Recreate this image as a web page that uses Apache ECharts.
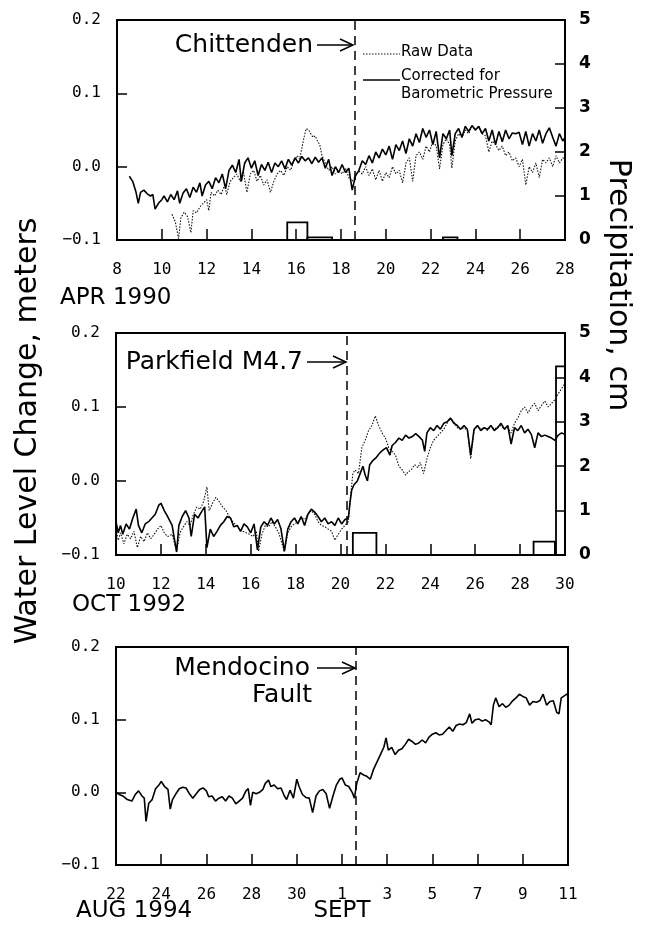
<!DOCTYPE html>
<html><head><meta charset="utf-8">
<script src="https://cdn.jsdelivr.net/npm/echarts/dist/echarts.min.js"></script>
<style>html,body{margin:0;padding:0;background:#fff}#c{width:645px;height:940px}</style>
</head><body><div id="c"></div>
<script>
// ---------------- DATA ----------------
// Panel 1: April 1990 (x = day of April)
const apr1990Corrected = [
[8.55,-0.013],[8.7,-0.02],[8.85,-0.035],[8.95,-0.05],[9.05,-0.035],[9.2,-0.032],[9.35,-0.037],[9.5,-0.04],[9.6,-0.038],[9.7,-0.058],
[9.85,-0.05],[10.0,-0.045],[10.1,-0.04],[10.25,-0.048],[10.4,-0.038],[10.55,-0.045],[10.7,-0.033],[10.8,-0.05],[10.95,-0.036],[11.1,-0.03],
[11.25,-0.042],[11.4,-0.028],[11.55,-0.035],[11.7,-0.022],[11.8,-0.04],[11.95,-0.025],[12.1,-0.02],[12.25,-0.03],[12.4,-0.015],[12.55,-0.022],
[12.7,-0.01],[12.85,-0.03],[13.0,-0.005],[13.15,0.002],[13.3,-0.008],[13.45,0.01],[13.55,-0.02],[13.7,0.005],[13.85,0.012],[14.0,-0.002],
[14.15,0.008],[14.3,-0.012],[14.45,0.003],[14.6,-0.005],[14.75,0.006],[14.9,-0.008],[15.05,0.005],[15.2,0.0],[15.35,0.008],[15.5,-0.003],
[15.65,0.01],[15.8,0.002],[15.95,0.012],[16.1,0.005],[16.25,0.014],[16.4,0.008],[16.55,0.012],[16.7,0.004],[16.85,0.013],[17.0,0.006],
[17.15,0.012],[17.3,-0.002],[17.45,0.01],[17.6,-0.012],[17.75,0.0],[17.9,-0.008],[18.05,0.003],[18.2,-0.008],[18.35,-0.002],[18.5,-0.032],
[18.65,-0.012],[18.8,-0.005],[18.95,0.008],[19.1,0.003],[19.25,0.015],[19.4,0.005],[19.55,0.02],[19.7,0.012],[19.85,0.024],[20.0,0.016],
[20.15,0.028],[20.3,0.01],[20.45,0.03],[20.6,0.022],[20.75,0.035],[20.9,0.018],[21.05,0.038],[21.2,0.028],[21.35,0.045],[21.5,0.033],
[21.65,0.052],[21.8,0.04],[21.95,0.05],[22.1,0.03],[22.25,0.048],[22.4,0.012],[22.55,0.045],[22.7,0.038],[22.85,0.05],[22.95,0.015],
[23.1,0.045],[23.25,0.052],[23.4,0.04],[23.55,0.055],[23.7,0.048],[23.85,0.056],[24.0,0.05],[24.15,0.055],[24.3,0.045],[24.45,0.052],
[24.6,0.035],[24.75,0.05],[24.9,0.03],[25.05,0.048],[25.2,0.034],[25.35,0.05],[25.5,0.038],[25.65,0.046],[25.8,0.045],[25.95,0.047],
[26.1,0.03],[26.25,0.048],[26.4,0.028],[26.55,0.045],[26.7,0.035],[26.85,0.05],[27.0,0.032],[27.15,0.045],[27.3,0.053],[27.45,0.04],
[27.6,0.028],[27.75,0.045],[27.9,0.035],[28.0,0.04]];
const apr1990Raw = [
[10.45,-0.065],[10.6,-0.075],[10.75,-0.098],[10.85,-0.07],[11.0,-0.062],[11.15,-0.068],[11.3,-0.09],[11.4,-0.06],[11.55,-0.063],[11.7,-0.055],
[11.85,-0.05],[12.0,-0.045],[12.1,-0.06],[12.2,-0.035],[12.35,-0.04],[12.5,-0.032],[12.65,-0.038],[12.8,-0.025],[12.9,-0.038],[13.05,-0.02],
[13.2,-0.015],[13.35,-0.01],[13.5,-0.02],[13.65,-0.008],[13.8,-0.035],[13.95,-0.01],[14.1,-0.005],[14.25,-0.02],[14.4,-0.012],[14.55,-0.025],
[14.7,-0.018],[14.85,-0.035],[15.0,-0.02],[15.15,-0.01],[15.3,-0.005],[15.45,-0.012],[15.6,0.0],[15.75,-0.005],[15.9,0.008],[16.05,0.015],
[16.15,0.01],[16.25,0.025],[16.35,0.04],[16.45,0.052],[16.55,0.05],[16.65,0.045],[16.75,0.04],[16.85,0.042],[16.95,0.035],[17.05,0.03],
[17.15,0.015],[17.3,0.005],[17.45,-0.005],[17.6,0.0],[17.75,-0.01],[17.9,-0.005],[18.05,-0.01],[18.2,-0.002],[18.35,-0.015],[18.5,-0.02],
[18.65,-0.012],[18.8,-0.006],[18.95,-0.01],[19.1,0.0],[19.25,-0.012],[19.4,-0.003],[19.55,-0.018],[19.7,-0.005],[19.85,-0.02],[20.0,-0.008],
[20.15,-0.015],[20.3,0.0],[20.45,-0.01],[20.6,-0.005],[20.75,-0.022],[20.9,0.005],[21.05,0.012],[21.2,-0.02],[21.35,0.015],[21.5,0.02],
[21.65,0.01],[21.8,0.028],[21.95,0.02],[22.1,0.035],[22.25,0.028],[22.4,-0.003],[22.55,0.03],[22.7,0.038],[22.85,0.03],[22.95,-0.002],
[23.1,0.035],[23.25,0.045],[23.4,0.04],[23.55,0.05],[23.7,0.045],[23.85,0.055],[24.0,0.05],[24.15,0.054],[24.3,0.045],[24.45,0.042],
[24.6,0.02],[24.75,0.035],[24.9,0.03],[25.05,0.022],[25.2,0.028],[25.35,0.015],[25.5,0.02],[25.65,0.008],[25.8,0.012],[25.95,0.0],
[26.1,0.01],[26.25,-0.025],[26.4,0.0],[26.55,-0.008],[26.7,0.005],[26.85,-0.015],[27.0,0.01],[27.15,0.005],[27.3,0.012],[27.45,0.0],
[27.6,0.015],[27.75,0.005],[27.9,0.012],[28.0,0.01]];
// precipitation bars: [start day, end day, cm]
const apr1990Precip = [[15.6,16.5,0.4],[16.5,17.6,0.06],[22.55,23.2,0.06]];
const apr1990Event = 18.6;

// Panel 2: October 1992 (x = day of October)
const oct1992Corrected = [
[10.0,-0.055],[10.1,-0.07],[10.2,-0.06],[10.3,-0.072],[10.45,-0.058],[10.6,-0.065],[10.75,-0.05],[10.9,-0.038],[11.0,-0.06],[11.15,-0.07],
[11.3,-0.058],[11.45,-0.055],[11.6,-0.05],[11.75,-0.045],[11.9,-0.033],[12.0,-0.03],[12.15,-0.04],[12.3,-0.048],[12.5,-0.06],[12.7,-0.096],
[12.8,-0.06],[12.95,-0.048],[13.1,-0.04],[13.25,-0.05],[13.35,-0.075],[13.5,-0.045],[13.65,-0.05],[13.8,-0.042],[13.95,-0.035],[14.05,-0.09],
[14.2,-0.065],[14.35,-0.075],[14.5,-0.068],[14.65,-0.06],[14.8,-0.055],[14.95,-0.048],[15.1,-0.05],[15.25,-0.062],[15.4,-0.06],[15.55,-0.068],
[15.7,-0.058],[15.85,-0.062],[16.0,-0.07],[16.15,-0.058],[16.3,-0.093],[16.45,-0.062],[16.6,-0.055],[16.75,-0.06],[16.9,-0.05],[17.05,-0.058],
[17.2,-0.052],[17.35,-0.065],[17.5,-0.095],[17.65,-0.065],[17.8,-0.055],[17.95,-0.05],[18.1,-0.058],[18.25,-0.048],[18.4,-0.06],[18.55,-0.045],
[18.7,-0.038],[18.85,-0.042],[19.0,-0.048],[19.15,-0.055],[19.3,-0.05],[19.45,-0.058],[19.6,-0.055],[19.75,-0.06],[19.9,-0.05],[20.05,-0.058],
[20.2,-0.052],[20.35,-0.05],[20.42,-0.03],[20.5,-0.012],[20.6,-0.005],[20.75,0.0],[20.9,0.012],[21.0,0.02],[21.1,0.008],[21.2,0.0],
[21.3,0.022],[21.45,0.028],[21.6,0.032],[21.75,0.038],[21.9,0.042],[22.05,0.045],[22.2,0.035],[22.3,0.048],[22.45,0.052],[22.6,0.058],
[22.75,0.055],[22.9,0.062],[23.05,0.058],[23.2,0.06],[23.35,0.064],[23.5,0.06],[23.65,0.055],[23.75,0.04],[23.85,0.065],[24.0,0.072],
[24.15,0.068],[24.3,0.075],[24.45,0.07],[24.6,0.078],[24.75,0.08],[24.9,0.085],[25.05,0.078],[25.2,0.075],[25.35,0.07],[25.5,0.075],
[25.65,0.07],[25.8,0.035],[25.95,0.07],[26.1,0.075],[26.25,0.068],[26.4,0.072],[26.55,0.07],[26.7,0.075],[26.85,0.068],[27.0,0.072],
[27.15,0.078],[27.3,0.07],[27.45,0.075],[27.6,0.05],[27.75,0.072],[27.9,0.068],[28.05,0.075],[28.2,0.065],[28.35,0.07],[28.5,0.063],
[28.65,0.045],[28.8,0.065],[28.95,0.06],[29.1,0.062],[29.25,0.06],[29.4,0.058],[29.55,0.055],[29.7,0.062],[29.85,0.065],[30.0,0.063]];
const oct1992Raw = [
[10.0,-0.065],[10.1,-0.08],[10.2,-0.07],[10.35,-0.085],[10.5,-0.072],[10.65,-0.078],[10.8,-0.068],[10.95,-0.09],[11.1,-0.075],[11.25,-0.082],
[11.4,-0.07],[11.55,-0.078],[11.7,-0.072],[11.85,-0.065],[12.0,-0.06],[12.15,-0.07],[12.3,-0.075],[12.5,-0.072],[12.7,-0.095],[12.85,-0.07],
[13.0,-0.062],[13.15,-0.055],[13.3,-0.06],[13.45,-0.045],[13.6,-0.035],[13.75,-0.038],[13.9,-0.028],[14.05,-0.008],[14.15,-0.04],[14.3,-0.03],
[14.45,-0.022],[14.6,-0.028],[14.75,-0.035],[14.9,-0.04],[15.05,-0.048],[15.2,-0.055],[15.35,-0.06],[15.5,-0.065],[15.65,-0.068],[15.8,-0.07],
[15.95,-0.072],[16.1,-0.075],[16.25,-0.068],[16.35,-0.095],[16.5,-0.072],[16.65,-0.06],[16.8,-0.062],[16.95,-0.055],[17.1,-0.062],[17.25,-0.07],
[17.4,-0.085],[17.5,-0.095],[17.65,-0.07],[17.8,-0.062],[17.95,-0.058],[18.1,-0.055],[18.25,-0.05],[18.4,-0.052],[18.55,-0.045],[18.7,-0.04],
[18.85,-0.045],[19.0,-0.055],[19.15,-0.06],[19.3,-0.062],[19.45,-0.065],[19.6,-0.068],[19.75,-0.08],[19.9,-0.072],[20.05,-0.065],[20.2,-0.06],
[20.35,-0.055],[20.45,-0.02],[20.55,0.01],[20.65,0.015],[20.8,0.01],[20.95,0.045],[21.1,0.055],[21.25,0.068],[21.4,0.075],[21.55,0.088],
[21.7,0.075],[21.85,0.065],[22.0,0.058],[22.15,0.045],[22.3,0.04],[22.45,0.035],[22.6,0.02],[22.75,0.015],[22.9,0.008],[23.0,0.012],
[23.15,0.015],[23.3,0.022],[23.45,0.018],[23.55,0.025],[23.7,0.01],[23.85,0.03],[24.0,0.045],[24.15,0.055],[24.3,0.06],[24.45,0.065],
[24.6,0.07],[24.75,0.078],[24.9,0.085],[25.05,0.08],[25.2,0.072],[25.35,0.07],[25.5,0.072],[25.65,0.068],[25.8,0.03],[25.95,0.068],
[26.1,0.075],[26.25,0.07],[26.4,0.072],[26.55,0.068],[26.7,0.074],[26.85,0.07],[27.0,0.073],[27.15,0.075],[27.3,0.07],[27.45,0.072],
[27.6,0.065],[27.75,0.078],[27.9,0.085],[28.05,0.095],[28.2,0.1],[28.35,0.092],[28.5,0.1],[28.65,0.105],[28.8,0.095],[28.95,0.102],
[29.1,0.108],[29.25,0.1],[29.4,0.105],[29.55,0.11],[29.7,0.118],[29.85,0.125],[30.0,0.132]];
const oct1992Precip = [[20.55,21.6,0.5],[28.6,29.55,0.3],[29.6,30.0,4.25]];
const oct1992Event = 20.3;

// Panel 3: Aug 22 - Sep 11 1994 (x = days since Aug 22)
const aug1994Corrected = [
[0.0,0.0],[0.15,-0.003],[0.3,-0.005],[0.5,-0.01],[0.7,-0.012],[0.85,-0.003],[1.0,0.002],[1.15,-0.005],[1.25,-0.008],[1.33,-0.04],
[1.45,-0.015],[1.6,-0.01],[1.75,0.005],[1.9,0.01],[2.0,0.015],[2.15,0.008],[2.3,0.004],[2.4,-0.023],[2.5,-0.01],[2.65,-0.002],
[2.8,0.005],[2.95,0.007],[3.1,0.006],[3.25,-0.002],[3.4,-0.008],[3.55,-0.002],[3.7,0.004],[3.85,0.006],[4.0,0.002],[4.1,-0.006],
[4.25,-0.005],[4.4,-0.012],[4.55,-0.008],[4.7,-0.006],[4.85,-0.012],[5.0,-0.005],[5.15,-0.008],[5.3,-0.016],[5.45,-0.012],[5.6,-0.008],
[5.75,0.002],[5.85,0.005],[5.95,-0.018],[6.05,0.0],[6.2,-0.002],[6.35,0.0],[6.5,0.004],[6.6,0.012],[6.75,0.017],[6.85,0.008],
[7.0,0.01],[7.15,0.005],[7.3,0.006],[7.45,-0.005],[7.55,-0.01],[7.7,0.003],[7.85,-0.008],[8.0,0.018],[8.1,0.008],[8.25,-0.003],
[8.4,-0.007],[8.55,-0.008],[8.7,-0.028],[8.85,-0.005],[9.0,0.002],[9.15,0.004],[9.3,-0.002],[9.45,-0.022],[9.6,-0.005],[9.75,0.01],
[9.9,0.018],[10.0,0.02],[10.15,0.01],[10.3,0.008],[10.45,0.0],[10.55,-0.008],[10.65,0.012],[10.8,0.027],[10.95,0.024],[11.1,0.022],
[11.25,0.018],[11.4,0.032],[11.55,0.042],[11.7,0.052],[11.85,0.062],[11.95,0.075],[12.05,0.058],[12.2,0.062],[12.35,0.052],[12.5,0.058],
[12.65,0.06],[12.8,0.066],[12.95,0.073],[13.1,0.07],[13.25,0.066],[13.4,0.068],[13.55,0.072],[13.7,0.068],[13.85,0.076],[14.0,0.08],
[14.15,0.082],[14.3,0.079],[14.45,0.08],[14.6,0.085],[14.75,0.09],[14.9,0.084],[15.05,0.092],[15.2,0.094],[15.35,0.093],[15.5,0.096],
[15.65,0.108],[15.75,0.095],[15.9,0.1],[16.05,0.101],[16.2,0.098],[16.35,0.1],[16.5,0.097],[16.6,0.093],[16.7,0.12],[16.8,0.13],
[16.95,0.118],[17.1,0.122],[17.25,0.117],[17.4,0.12],[17.55,0.126],[17.7,0.13],[17.85,0.135],[18.0,0.132],[18.15,0.13],[18.3,0.12],
[18.45,0.125],[18.6,0.124],[18.75,0.126],[18.9,0.135],[19.05,0.12],[19.2,0.125],[19.35,0.126],[19.5,0.11],[19.6,0.108],[19.7,0.13],
[19.85,0.133],[20.0,0.136]];
const aug1994Event = 10.6;

// Tick labels / axis ranges
const waterTicks = {min:-0.1, max:0.2, interval:0.1};
const precipTicks = {min:0, max:5, interval:1};
const augSepLabel = v => (v < 10 ? String(22 + v) : String(v - 9));

// ---------------- CHART ----------------
const tickFont = '"DejaVu Sans Mono", "Liberation Mono", monospace';
const textFont = '"DejaVu Sans", sans-serif';
const chart = echarts.init(document.getElementById('c'), null, {renderer:'canvas'});

const grids = [
  {left:117, top:20, width:448, height:220},
  {left:116, top:333, width:449, height:222},
  {left:116, top:647, width:452, height:218}
].map(g => Object.assign({show:true, borderColor:'#000', borderWidth:2, backgroundColor:'transparent'}, g));

function xAx(gi, min, max, fmt) {
  return {gridIndex:gi, type:'value', min:min, max:max, interval:2,
    axisLine:{show:false, onZero:false}, splitLine:{show:false},
    axisTick:{inside:true, length:11, lineStyle:{color:'#000', width:1.5}},
    axisLabel:{margin:22, color:'#000', fontFamily:tickFont, fontSize:16, formatter:fmt || (v => String(v))}};
}
function yLeft(gi) {
  return Object.assign({gridIndex:gi, type:'value', position:'left',
    axisLine:{show:false, onZero:false}, splitLine:{show:false},
    axisTick:{inside:true, length:10, lineStyle:{color:'#000', width:1.5}},
    axisLabel:{margin:16, color:'#000', fontFamily:tickFont, fontSize:16,
      formatter:v => v.toFixed(1).replace('-', '\u2212')}}, waterTicks);
}
function yRight(gi) {
  return Object.assign({gridIndex:gi, type:'value', position:'right',
    axisLine:{show:false, onZero:false}, splitLine:{show:false},
    axisTick:{inside:true, length:10, lineStyle:{color:'#000', width:1.5}},
    axisLabel:{margin:14, color:'#000', fontFamily:textFont, fontWeight:'bold', fontSize:17}}, precipTicks);
}

function lineSeries(data, xi, yi, raw, event) {
  const s = {type:'line', data:data, xAxisIndex:xi, yAxisIndex:yi, showSymbol:false, symbol:'none',
    silent:true, z:3,
    lineStyle: raw ? {color:'#111', width:1.1, type:[1.5,1.5]} : {color:'#000', width:1.6}};
  if (event !== undefined) {
    s.markLine = {silent:true, symbol:'none', label:{show:false}, animation:false,
      lineStyle:{color:'#000', width:1.5, type:[9,6]}, data:[{xAxis:event}]};
  }
  return s;
}
function precipSeries(data, xi, yi) {
  return {type:'custom', data:data, xAxisIndex:xi, yAxisIndex:yi, silent:true, clip:true, z:2,
    encode:{x:[0,1], y:2},
    renderItem:(params, api) => {
      const p0 = api.coord([api.value(0), 0]);
      const p1 = api.coord([api.value(1), api.value(2)]);
      return {type:'rect', shape:{x:p0[0], y:p1[1], width:p1[0]-p0[0], height:p0[1]-p1[1]},
        style:{fill:'none', stroke:'#000', lineWidth:1.8}};
    }};
}

function txt(x, y, text, size, opts) {
  return Object.assign({type:'text', x:x, y:y, silent:true,
    style:Object.assign({text:text, fill:'#000', fontFamily:textFont, fontSize:size,
      align:'left', verticalAlign:'middle'}, (opts && opts.style) || {})},
    opts && opts.rotation !== undefined ? {rotation:opts.rotation} : {});
}
function arrow(x1, x2, y) {
  return [
    {type:'line', silent:true, shape:{x1:x1, y1:y, x2:x2, y2:y}, style:{stroke:'#000', lineWidth:1.5}},
    {type:'polyline', silent:true, shape:{points:[[x2-13,y-6],[x2,y],[x2-13,y+6]]}, style:{stroke:'#000', lineWidth:1.5, fill:'none'}}
  ];
}

const graphic = [].concat(
  [txt(313, 45, 'Chittenden', 25, {style:{align:'right'}})], arrow(317, 353, 45),
  [ {type:'line', silent:true, shape:{x1:363, y1:54, x2:400, y2:54}, style:{stroke:'#111', lineWidth:1, lineDash:[1.5,1.5]}},
    txt(401, 52, 'Raw Data', 15),
    {type:'line', silent:true, shape:{x1:363, y1:80, x2:400, y2:80}, style:{stroke:'#000', lineWidth:1.5}},
    txt(401, 76, 'Corrected for', 15),
    txt(401, 94, 'Barometric Pressure', 15) ],
  [txt(303, 362, 'Parkfield M4.7', 25, {style:{align:'right'}})], arrow(307, 346, 362),
  [txt(310, 668, 'Mendocino', 25, {style:{align:'right'}})], arrow(317, 355, 668),
  [txt(312, 695, 'Fault', 25, {style:{align:'right'}})],
  [txt(60, 298, 'APR 1990', 23), txt(72, 605, 'OCT 1992', 23), txt(76, 911, 'AUG 1994', 23), txt(342, 911, 'SEPT', 23, {style:{align:'center'}})],
  [txt(28, 431, 'Water Level Change, meters', 30, {rotation:Math.PI/2, style:{align:'center'}}),
   txt(618, 285, 'Precipitation, cm', 30, {rotation:-Math.PI/2, style:{align:'center'}})]
);

chart.setOption({
  animation:false,
  backgroundColor:'#fff',
  grid:grids,
  xAxis:[xAx(0, 8, 28), xAx(1, 10, 30), xAx(2, 0, 20, augSepLabel)],
  yAxis:[yLeft(0), yRight(0), yLeft(1), yRight(1), yLeft(2)],
  series:[
    precipSeries(apr1990Precip, 0, 1),
    lineSeries(apr1990Raw, 0, 0, true),
    lineSeries(apr1990Corrected, 0, 0, false, apr1990Event),
    precipSeries(oct1992Precip, 1, 3),
    lineSeries(oct1992Raw, 1, 2, true),
    lineSeries(oct1992Corrected, 1, 2, false, oct1992Event),
    lineSeries(aug1994Corrected, 2, 4, false, aug1994Event)
  ],
  graphic:graphic
});
</script></body></html>
